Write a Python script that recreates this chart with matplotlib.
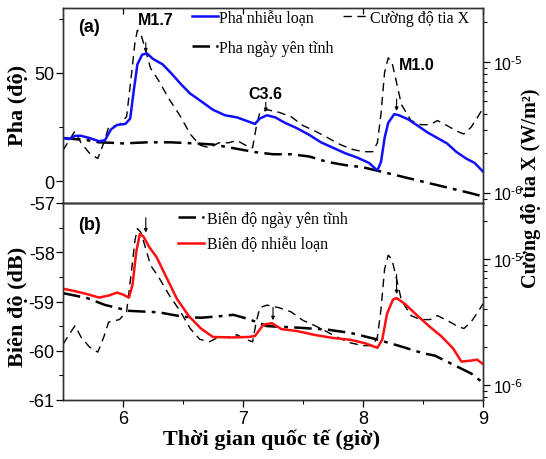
import numpy as np
import matplotlib
matplotlib.use('Agg')
import matplotlib.pyplot as plt
from matplotlib.lines import Line2D
from matplotlib.ticker import FixedLocator, NullFormatter, FixedFormatter, LogLocator

SANS = ['Liberation Sans Narrow', 'Liberation Sans', 'DejaVu Sans']
plt.rcParams['mathtext.fontset'] = 'custom'
plt.rcParams['mathtext.rm'] = 'Liberation Sans Narrow'
plt.rcParams['mathtext.it'] = 'Liberation Sans Narrow:italic'
plt.rcParams['mathtext.bf'] = 'Liberation Sans Narrow:bold'
plt.rcParams['font.family'] = SANS
plt.rcParams['axes.unicode_minus'] = False

# ---------------- data ----------------
# X-ray flux (W/m^2)
xr_t = [5.50, 5.55, 5.60, 5.65, 5.72, 5.79, 5.84, 5.88, 5.97, 6.03, 6.07, 6.10, 6.12, 6.15,
        6.19, 6.23, 6.30, 6.38, 6.48, 6.56, 6.64, 6.72, 6.80, 6.88, 6.95, 7.02, 7.08, 7.11,
        7.14, 7.20, 7.30, 7.40, 7.50, 7.60, 7.68, 7.80, 7.90, 8.00, 8.08, 8.12, 8.15, 8.18,
        8.21, 8.24, 8.27, 8.32, 8.40, 8.48, 8.56, 8.62, 8.70, 8.78, 8.84, 8.90, 8.95, 9.00]
xr_flux = [2.1e-6, 2.5e-6, 2.95e-6, 2.4e-6, 2.0e-6, 1.82e-6, 2.4e-6, 3.15e-6, 3.3e-6, 3.8e-6,
           7.9e-6, 1.41e-5, 1.74e-5, 1.62e-5, 1.2e-5, 8.9e-6, 7.1e-6, 5.25e-6, 3.8e-6, 2.8e-6,
           2.3e-6, 2.2e-6, 2.4e-6, 2.4e-6, 2.5e-6, 2.3e-6, 2.2e-6, 3.15e-6, 4.1e-6, 4.3e-6,
           4.1e-6, 3.8e-6, 3.25e-6, 2.95e-6, 2.7e-6, 2.35e-6, 2.15e-6, 2.05e-6, 2.05e-6, 2.4e-6,
           4.0e-6, 8.3e-6, 1.07e-5, 1.0e-5, 7.6e-6, 4.7e-6, 3.55e-6, 3.3e-6, 3.3e-6, 3.55e-6,
           3.25e-6, 2.95e-6, 2.8e-6, 3.15e-6, 3.7e-6, 4.4e-6]

# disturbed phase (deg)
ph_t = [5.50, 5.55, 5.60, 5.65, 5.72, 5.80, 5.85, 5.90, 5.95, 6.02, 6.06, 6.09, 6.12, 6.16,
        6.20, 6.25, 6.33, 6.40, 6.48, 6.56, 6.65, 6.75, 6.85, 6.95, 7.05, 7.10, 7.14, 7.20,
        7.27, 7.35, 7.45, 7.55, 7.65, 7.75, 7.85, 7.95, 8.05, 8.12, 8.15, 8.18, 8.21, 8.26,
        8.30, 8.38, 8.46, 8.54, 8.62, 8.70, 8.78, 8.86, 8.93, 9.00]
ph_dist = [20, 19.5, 21, 21, 20, 18.5, 19, 24, 26, 26.5, 29, 42, 54, 58.5,
           59, 56.5, 54, 50, 45, 40.5, 37, 33, 30.5, 29.5, 27.5, 26.5, 29, 30.5,
           29.5, 27, 24.5, 21.5, 18, 15.5, 13, 11, 8.5, 5, 9, 20, 27, 31,
           30.5, 28.5, 25.5, 22.5, 20, 17.5, 13.5, 10.5, 8.5, 4.5]

# quiet-day phase (deg)
pq_t = [5.50, 5.60, 5.70, 5.80, 5.90, 6.00, 6.20, 6.40, 6.60, 6.75, 6.90, 7.00, 7.10, 7.25,
        7.40, 7.55, 7.70, 7.85, 8.00, 8.15, 8.30, 8.45, 8.60, 8.75, 8.90, 9.00]
ph_quiet = [20, 19.5, 19, 18, 17.8, 17.5, 18, 18, 17.5, 17, 15.5, 14.5, 13.5, 12.5,
            12.5, 11.5, 9, 7.5, 6.5, 4.5, 2.5, 0.5, -1.5, -3.5, -5.5, -7]

# disturbed amplitude (dB)
am_t = [5.50, 5.60, 5.70, 5.80, 5.88, 5.95, 6.00, 6.05, 6.08, 6.11, 6.14, 6.17, 6.22, 6.28,
        6.35, 6.45, 6.55, 6.65, 6.75, 6.90, 7.05, 7.10, 7.17, 7.24, 7.32, 7.45, 7.60, 7.75,
        7.90, 8.02, 8.12, 8.16, 8.20, 8.25, 8.28, 8.35, 8.45, 8.55, 8.65, 8.75, 8.82, 8.90,
        8.95, 9.00]
amp_dist = [-58.74, -58.79, -58.85, -58.92, -58.88, -58.82, -58.86, -58.92, -58.65, -58.0,
            -57.63, -57.68, -57.9, -58.1, -58.45, -58.95, -59.3, -59.55, -59.72, -59.73,
            -59.72, -59.7, -59.47, -59.44, -59.56, -59.6, -59.68, -59.74, -59.78, -59.85,
            -59.94, -59.78, -59.25, -58.96, -58.93, -59.05, -59.28, -59.5, -59.7, -59.95,
            -60.22, -60.2, -60.18, -60.27]

# quiet-day amplitude (dB)
aq_t = [5.50, 5.70, 5.85, 6.05, 6.30, 6.50, 6.65, 6.80, 6.92, 7.05, 7.20, 7.45, 7.70, 7.90,
        8.10, 8.30, 8.50, 8.60, 8.75, 8.90, 9.00]
amp_quiet = [-58.83, -58.93, -59.07, -59.19, -59.22, -59.31, -59.33, -59.3, -59.27, -59.36,
             -59.5, -59.53, -59.57, -59.64, -59.76, -59.9, -60.05, -60.1, -60.28, -60.46, -60.65]

x_ticks = [6, 7, 8, 9]
x_minor = [6.5, 7.5, 8.5]
flux_ticks = [1e-6, 1e-5]
flux_labels = ['10$^{\\text{-}6}$', '10$^{\\text{-}5}$']

# ---------------- figure ----------------
W, H = 546, 460
fig = plt.figure(figsize=(W / 100, H / 100), dpi=100)


def rect(l, t, r, b):
    return [l / W, 1 - b / H, (r - l) / W, (b - t) / H]


ax1 = fig.add_axes(rect(63, 9, 483, 204))
ax2 = fig.add_axes(rect(63, 204, 483, 401))
ax1r = ax1.twinx()
ax2r = ax2.twinx()

serif = ['Liberation Serif', 'DejaVu Serif']
TICK_FS = 13
DASHDOT = (0, (7, 2.5, 1.5, 2.5))
DASHED = (0, (6, 4))

# panel (a)
ax1r.plot(xr_t, xr_flux, color='black', lw=1.0, linestyle=DASHED)
ax1.plot(pq_t, ph_quiet, color='black', lw=1.8, linestyle=DASHDOT)
ax1.plot(ph_t, ph_dist, color='#1010ff', lw=1.8)
ax1.set_zorder(ax1r.get_zorder() + 1)
ax1.patch.set_visible(False)

# panel (b)
ax2r.plot(xr_t, xr_flux, color='black', lw=1.0, linestyle=DASHED)
ax2.plot(aq_t, amp_quiet, color='black', lw=1.8, linestyle=DASHDOT)
ax2.plot(am_t, amp_dist, color='#ff1010', lw=1.8)
ax2.set_zorder(ax2r.get_zorder() + 1)
ax2.patch.set_visible(False)

for a in (ax1, ax2):
    a.set_xlim(5.5, 9)
ax1.set_ylim(-10, 80)
ax2.set_ylim(-61, -57)
ax1r.set_yscale('log')
ax2r.set_yscale('log')
ax1r.set_ylim(10 ** -6.08, 10 ** -4.59)
ax2r.set_ylim(10 ** -6.12, 10 ** -4.556)

# ticks
ax1.yaxis.set_major_locator(FixedLocator([0, 50]))
ax1.yaxis.set_minor_locator(FixedLocator([25, 75]))
ax2.yaxis.set_major_locator(FixedLocator([-61, -60, -59, -58, -57]))
ax2.yaxis.set_minor_locator(FixedLocator([-60.5, -59.5, -58.5, -57.5]))
for a in (ax1, ax2):
    a.xaxis.set_major_locator(FixedLocator(x_ticks))
    a.xaxis.set_minor_locator(FixedLocator(x_minor))
    a.tick_params(axis='y', which='major', direction='out', length=5, width=0.9,
                  labelsize=TICK_FS, pad=1)
    a.tick_params(axis='y', which='minor', direction='out', length=3, width=0.8)
ax1.tick_params(axis='x', which='both', bottom=False, top=True, direction='in',
                labelbottom=False, length=4, width=0.9)
ax1.tick_params(axis='x', which='minor', top=False)
ax2.tick_params(axis='x', which='major', direction='out', length=5, width=0.9,
                labelsize=TICK_FS, pad=2)
ax2.tick_params(axis='x', which='minor', direction='out', length=3, width=0.8)

for ar in (ax1r, ax2r):
    ar.yaxis.set_major_locator(FixedLocator(flux_ticks))
    ar.yaxis.set_major_formatter(FixedFormatter(flux_labels))
    ar.yaxis.set_minor_locator(LogLocator(base=10, subs=np.arange(2, 10)))
    ar.yaxis.set_minor_formatter(NullFormatter())
    ar.tick_params(axis='y', which='major', direction='out', length=5, width=0.9,
                   labelsize=11.5, pad=2)
    ar.tick_params(axis='y', which='minor', direction='out', length=3, width=0.8)

for a in (ax1, ax2, ax1r, ax2r):
    for s in a.spines.values():
        s.set_linewidth(1.0)
        s.set_color('#333333')

# legends
leg_fs = 11.5
h_blue = Line2D([], [], color='#1010ff', lw=1.8)
h_qd = Line2D([], [], color='black', lw=1.8, linestyle=DASHDOT)
h_x = Line2D([], [], color='black', lw=1.0, linestyle=DASHED)
h_red = Line2D([], [], color='#ff1010', lw=1.8)
leg1 = ax1.legend([h_blue, h_qd, h_x],
                  ['Pha nhiễu loạn', 'Pha ngày yên tĩnh', 'Cường độ tia X'],
                  ncol=2, loc='upper left', bbox_to_anchor=(192 / W, 1 - 11 / H),
                  bbox_transform=fig.transFigure, frameon=False, borderpad=0,
                  borderaxespad=0, handlelength=1.6, handletextpad=0.1,
                  columnspacing=0.6, labelspacing=0.85,
                  prop={'family': serif, 'size': leg_fs})
leg2 = ax2.legend([h_qd, h_red],
                  ['Biên độ ngày yên tĩnh', 'Biên độ nhiễu loạn'],
                  loc='upper left', bbox_to_anchor=(178 / W, 1 - 212 / H),
                  bbox_transform=fig.transFigure, frameon=False, borderpad=0,
                  borderaxespad=0, handlelength=1.6, handletextpad=0.2,
                  labelspacing=0.6, prop={'family': serif, 'size': leg_fs})

# annotations
ann_kw = dict(family=['Liberation Sans', 'DejaVu Sans'], fontsize=11.5,
              fontweight='bold', ha='center', va='center')
ax1.text(6.27, 74.5, 'M1.7', **ann_kw)
ax1.text(7.19, 40.6, 'C3.6', **ann_kw)
ax1.text(8.45, 54, 'M1.0', **ann_kw)
lab_ab = dict(family=['Liberation Sans', 'DejaVu Sans'], fontsize=13,
              fontweight='bold', ha='center', va='center')
ax1.text(0.062, 0.903, '(a)', transform=ax1.transAxes, **lab_ab)
ax2.text(0.062, 0.893, '(b)', transform=ax2.transAxes, **lab_ab)

arr = dict(arrowstyle='-|>', lw=0.8, color='black', mutation_scale=5, shrinkA=0, shrinkB=0)
for (xx, y0, y1) in [(6.19, 64, 59.5), (7.19, 36.5, 32), (8.28, 38, 32.5)]:
    ax1.annotate('', xy=(xx, y1), xytext=(xx, y0), arrowprops=arr)
for (xx, y0, y1) in [(6.19, -57.3, -57.6), (7.25, -59.12, -59.38), (8.28, -58.45, -58.85)]:
    ax2.annotate('', xy=(xx, y1), xytext=(xx, y0), arrowprops=arr)

# axis labels
lab_kw = dict(family=serif, fontweight='bold', ha='center', va='center')
fig.text(18 / W, 1 - 105 / H, 'Pha (độ)', rotation=90, fontsize=16, **lab_kw)
fig.text(18 / W, 1 - 307 / H, 'Biên độ (dB)', rotation=90, fontsize=16, **lab_kw)
fig.text(272 / W, 1 - 440 / H, 'Thời gian quốc tế (giờ)', fontsize=16, **lab_kw)
fig.text(531 / W, 1 - 188 / H, 'Cường độ tia X (W/m²)', rotation=90, fontsize=14.5, **lab_kw)

fig.savefig('out.png', dpi=100)
